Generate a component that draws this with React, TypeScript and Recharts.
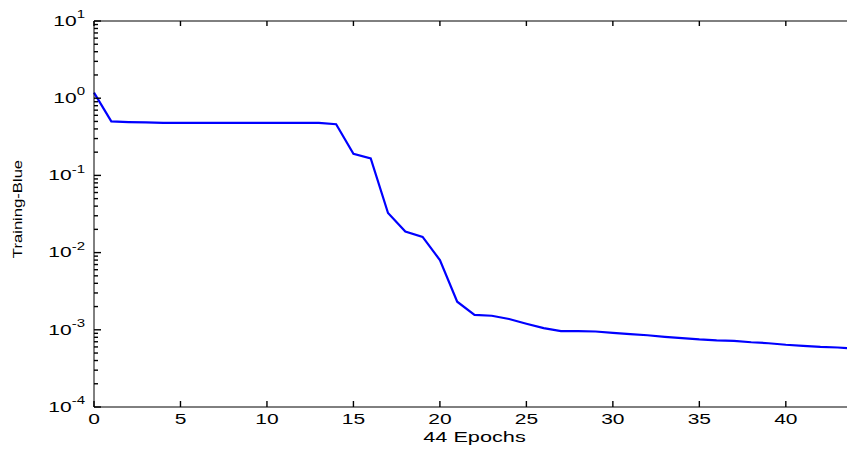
import React from 'react';
import { LineChart, Line, XAxis, YAxis } from 'recharts';

const epochs = [
  0, 1, 2, 3, 4, 5, 6, 7, 8, 9, 10, 11, 12, 13, 14, 15, 16, 17, 18, 19, 20, 21,
  22, 23, 24, 25, 26, 27, 28, 29, 30, 31, 32, 33, 34, 35, 36, 37, 38, 39, 40, 41, 42, 43, 44,
];
const trainingError = [
  1.18, 0.5, 0.49, 0.485, 0.48, 0.48, 0.48, 0.48, 0.48, 0.48, 0.48, 0.48, 0.48, 0.478, 0.46,
  0.19, 0.166, 0.0326, 0.0187, 0.016, 0.008, 0.00231, 0.00156, 0.00152, 0.00138, 0.0012,
  0.00105, 0.00096, 0.00096, 0.00095, 0.00091, 0.00088, 0.00085, 0.00081, 0.00078, 0.00075,
  0.00073, 0.00072, 0.00069, 0.00067, 0.00064, 0.00062, 0.0006, 0.00059, 0.00057,
];
const xTicks = [0, 5, 10, 15, 20, 25, 30, 35, 40];
const yDecades = [1e-4, 1e-3, 1e-2, 1e-1, 1, 10];
const minorSteps = [2, 3, 4, 5, 6, 7, 8, 9];
const xLabel = '44 Epochs';
const yLabel = 'Training-Blue';

const yTicks = [
  ...yDecades,
  ...yDecades.slice(0, -1).flatMap((d) => minorSteps.map((m) => d * m)),
].sort((a, b) => a - b);

const data = epochs.map((e, i) => ({ epoch: e, err: trainingError[i] }));

const FONT = '"Liberation Sans", Arial, Helvetica, sans-serif';
const SX = 1.5;
const INK = '#000';

const isMajor = (v: number) => Math.abs(Math.log10(v) - Math.round(Math.log10(v))) < 1e-6;

const LeftTick = (p: any) => {
  const x = Number(p.x);
  const y = Number(p.y);
  const v = p.payload.value;
  const major = isMajor(v);
  const exp = Math.round(Math.log10(v));
  const len = major ? 7 : 4;
  return (
    <g>
      <path d={`M${x},${y}H${x + len}`} stroke={INK} strokeWidth={1.4} fill="none" />
      {major && (
        <text
          transform={`translate(${x - 9},${y + 4.7}) scale(${SX},1)`}
          textAnchor="end"
          fontFamily={FONT}
          fill={INK}
        >
          <tspan fontSize={14}>10</tspan>
          <tspan fontSize={10} dy={-7.5}>{String(exp)}</tspan>
        </text>
      )}
    </g>
  );
};

const BottomTick = (p: any) => {
  const x = Number(p.x);
  const y = Number(p.y);
  return (
    <g>
      <path d={`M${x},${y}V${y - 6}`} stroke={INK} strokeWidth={1.4} fill="none" />
      <text
        transform={`translate(${x},${y + 17}) scale(${SX},1)`}
        textAnchor="middle"
        fontFamily={FONT}
        fontSize={14}
        fill={INK}
      >
        {p.payload.value}
      </text>
    </g>
  );
};

const TopTick = (p: any) => {
  const x = Number(p.x);
  const y = Number(p.y);
  return (
    <g>
      <path d={`M${x},${y}V${y + 5}`} stroke={INK} strokeWidth={1.4} fill="none" />
    </g>
  );
};

export default function App() {
  return (
    <div style={{ position: 'absolute', left: 0, top: 0, width: 847, height: 451, overflow: 'hidden' }}>
      <LineChart width={870} height={451} data={data} margin={{ top: 20, right: 15, bottom: 14, left: 0 }}>
        <XAxis
          dataKey="epoch"
          type="number"
          domain={[0, 44]}
          ticks={xTicks}
          interval={0}
          tickSize={0}
          tickMargin={0}
          tickLine={false}
          stroke={INK}
          height={30}
          tick={(p: any) => <BottomTick {...p} />}
          label={{
            value: xLabel,
            position: 'insideBottom',
            offset: -5,
            fill: INK,
            fontSize: 14,
            fontFamily: FONT,
            style: { transformBox: 'fill-box', transformOrigin: 'center', transform: 'scaleX(1.55)' },
          }}
        />
        <XAxis
          xAxisId="top"
          orientation="top"
          dataKey="epoch"
          type="number"
          domain={[0, 44]}
          ticks={xTicks}
          interval={0}
          tickSize={0}
          tickMargin={0}
          tickLine={false}
          stroke={INK}
          height={1}
          tick={(p: any) => <TopTick {...p} />}
        />
        <YAxis
          scale="log"
          type="number"
          domain={[1e-4, 10]}
          ticks={yTicks}
          interval={0}
          tickSize={0}
          tickMargin={0}
          tickLine={false}
          stroke={INK}
          width={94}
          tick={(p: any) => <LeftTick {...p} />}
        />
        <Line xAxisId="top" dataKey="err" stroke="#fff" strokeOpacity={0} dot={false} isAnimationActive={false} />
        <Line type="linear" dataKey="err" stroke="#0000ff" strokeWidth={2.2} dot={false} isAnimationActive={false} />
      </LineChart>
      <div
        style={{
          position: 'absolute',
          left: 18,
          top: 209,
          fontFamily: FONT,
          fontSize: 12.5,
          lineHeight: '12.5px',
          whiteSpace: 'nowrap',
          color: INK,
          transformOrigin: 'center',
          transform: 'translate(-50%, -50%) rotate(-90deg) scaleX(1.33)',
        }}
      >
        {yLabel}
      </div>
    </div>
  );
}
